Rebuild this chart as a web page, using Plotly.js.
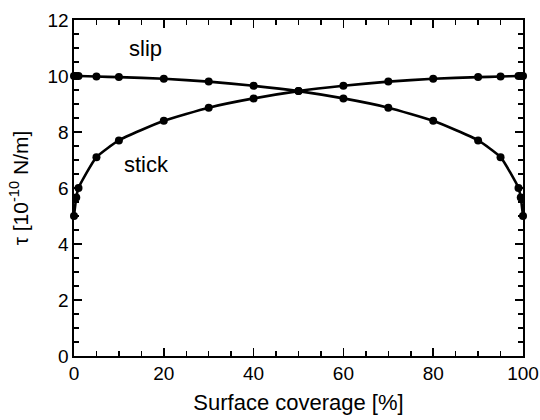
<!DOCTYPE html>
<html><head><meta charset="utf-8">
<script src="https://cdn.plot.ly/plotly-3.0.1.min.js"></script>
<style>html,body{margin:0;padding:0;background:#fff}#chart{width:540px;height:420px}</style>
</head><body><div id="chart"></div>
<script>
const coverage = [0, 0.5, 1, 5, 10, 20, 30, 40, 50, 60, 70, 80, 90, 95, 99, 99.5, 100];
const stickTau = [5.0, 5.66, 6.0, 7.1, 7.7, 8.4, 8.87, 9.2, 9.46, 9.65, 9.8, 9.9, 9.96, 9.98, 10.0, 10.0, 10.0];
const slipTau  = [10.0, 10.0, 10.0, 9.98, 9.96, 9.9, 9.8, 9.65, 9.46, 9.2, 8.87, 8.4, 7.7, 7.1, 6.0, 5.66, 5.0];
const labels = ["slip", "stick"];
const FONT = "Arial, 'Liberation Sans', sans-serif";

const common = {mode:"lines+markers", cliponaxis:false, line:{color:"#000", width:2.6, shape:"spline", smoothing:0.5},
  marker:{color:"#000", size:8}, showlegend:false, hoverinfo:"skip"};
const traces = [
  Object.assign({x:coverage, y:slipTau, name:labels[0]}, common),
  Object.assign({x:coverage, y:stickTau, name:labels[1]}, common)
];
const axisCommon = {showline:true, linecolor:"#000", linewidth:1.6, mirror:"allticks",
  ticks:"inside", ticklen:8, tickwidth:1.5, tickcolor:"#000", showgrid:false, zeroline:false,
  tickfont:{family:FONT, size:19, color:"#000"}};
const layout = {
  width:540, height:420, margin:{l:74, r:17, t:20, b:64},
  paper_bgcolor:"#fff", plot_bgcolor:"#fff",
  font:{family:FONT, color:"#000"},
  xaxis:Object.assign({}, axisCommon, {range:[0,100], dtick:20, tick0:0,
    minor:{dtick:5, ticks:"inside", ticklen:5, tickwidth:1.5, tickcolor:"#000"},
    title:{text:"Surface coverage [%]", font:{family:FONT, size:22, color:"#000"}, standoff:11}}),
  yaxis:Object.assign({}, axisCommon, {range:[0,12], dtick:2, tick0:0,
    minor:{dtick:0.5, ticks:"inside", ticklen:5, tickwidth:1.5, tickcolor:"#000"},
    title:{text:"τ [10<sup>-10</sup> N/m]", font:{family:FONT, size:21, color:"#000"}, standoff:13}}),
  annotations:[
    {x:16, y:11.0, xref:"x", yref:"y", text:labels[0], showarrow:false, font:{family:FONT, size:22, color:"#000"}},
    {x:16.2, y:6.85, xref:"x", yref:"y", text:labels[1], showarrow:false, font:{family:FONT, size:22, color:"#000"}}
  ]
};
Plotly.newPlot("chart", traces, layout, {staticPlot:true, displayModeBar:false});
</script></body></html>
